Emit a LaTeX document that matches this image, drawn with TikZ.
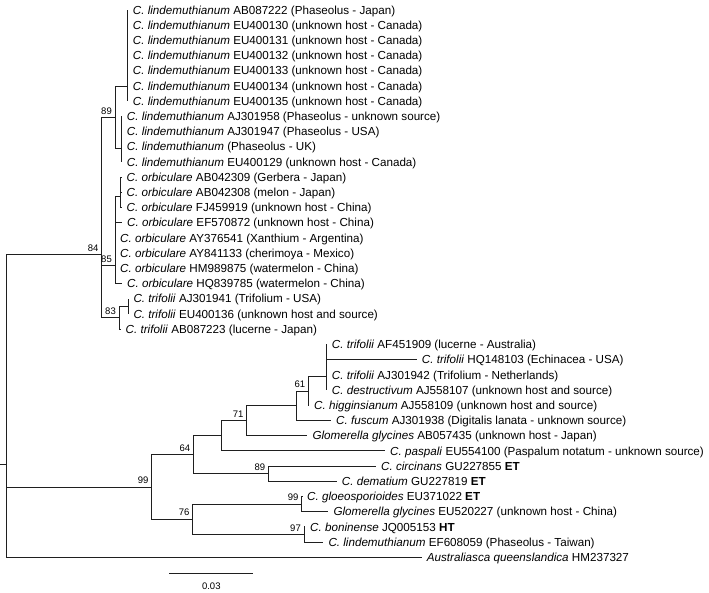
\documentclass[tikz,border=0pt]{standalone}
\usepackage{fontspec}
\setmainfont{Liberation Sans}
\newcommand\LfTip[4]{\coordinate (#1) at (#2,{10+15.2*#3}); \node[leaf] (#1t) at (#1) {#4};}
\begin{document}
\begin{tikzpicture}[x=1pt,y=-1pt,
  br/.style={line width=0.9pt, draw=black!88},
  leaf/.style={anchor=base west, inner sep=0pt, xshift=5pt, yshift=-4.2pt, font=\fontsize{11.65pt}{13pt}\selectfont},
  boot/.style={anchor=south east, inner sep=0pt, xshift=-3pt, yshift=3pt, font=\fontsize{9.5pt}{11pt}\selectfont}]
\useasboundingbox (0,0) rectangle (709,593);

% internal nodes
\coordinate (rootstub) at (0,464.2);
\coordinate (root) at (6.7,464.2);
\coordinate (n84) at (101.7,254.5);
\coordinate (n89) at (115,117.5);
\coordinate (g7) at (127.7,86.2);
\coordinate (g4) at (121.7,148.7);
\coordinate (n85) at (115,265.5);
\coordinate (sub85) at (120,196.2);
\coordinate (n83) at (119,317.8);
\coordinate (sub83) at (128.3,306.4);
\coordinate (n99) at (151.7,487);
\coordinate (n64) at (193.3,454.7);
\coordinate (nu) at (221.7,435.7);
\coordinate (n71) at (246.7,420.6);
\coordinate (nx) at (296,405.7);
\coordinate (n61) at (308.3,391);
\coordinate (nt) at (326.7,376.8);
\coordinate (n89b) at (268.3,473.6);
\coordinate (n76) at (192.7,519.2);
\coordinate (n99g) at (301.7,504);
\coordinate (n97) at (304,534.4);

% leaves
\LfTip{l0}{127.7}{0}{\textit{C. lindemuthianum} AB087222 (Phaseolus - Japan)}
\LfTip{l1}{127.7}{1}{\textit{C. lindemuthianum} EU400130 (unknown host - Canada)}
\LfTip{l2}{127.7}{2}{\textit{C. lindemuthianum} EU400131 (unknown host - Canada)}
\LfTip{l3}{127.7}{3}{\textit{C. lindemuthianum} EU400132 (unknown host - Canada)}
\LfTip{l4}{127.7}{4}{\textit{C. lindemuthianum} EU400133 (unknown host - Canada)}
\LfTip{l5}{127.7}{5}{\textit{C. lindemuthianum} EU400134 (unknown host - Canada)}
\LfTip{l6}{127.7}{6}{\textit{C. lindemuthianum} EU400135 (unknown host - Canada)}
\LfTip{l7}{121.7}{7}{\textit{C. lindemuthianum} AJ301958 (Phaseolus - unknown source)}
\LfTip{l8}{121.7}{8}{\textit{C. lindemuthianum} AJ301947 (Phaseolus - USA)}
\LfTip{l9}{121.7}{9}{\textit{C. lindemuthianum} (Phaseolus - UK)}
\LfTip{l10}{121.7}{10}{\textit{C. lindemuthianum} EU400129 (unknown host - Canada)}
\LfTip{l11}{121.5}{11}{\textit{C. orbiculare} AB042309 (Gerbera - Japan)}
\LfTip{l12}{121.5}{12}{\textit{C. orbiculare} AB042308 (melon - Japan)}
\LfTip{l13}{121.5}{13}{\textit{C. orbiculare} FJ459919 (unknown host - China)}
\LfTip{l14}{122}{14}{\textit{C. orbiculare} EF570872 (unknown host - China)}
\LfTip{l15}{115}{15}{\textit{C. orbiculare} AY376541 (Xanthium - Argentina)}
\LfTip{l16}{115}{16}{\textit{C. orbiculare} AY841133 (cherimoya - Mexico)}
\LfTip{l17}{115}{17}{\textit{C. orbiculare} HM989875 (watermelon - China)}
\LfTip{l18}{122}{18}{\textit{C. orbiculare} HQ839785 (watermelon - China)}
\LfTip{l19}{128.3}{19}{\textit{C. trifolii} AJ301941 (Trifolium - USA)}
\LfTip{l20}{128.3}{20}{\textit{C. trifolii} EU400136 (unknown host and source)}
\LfTip{l21}{120.5}{21}{\textit{C. trifolii} AB087223 (lucerne - Japan)}
\LfTip{l22}{326.7}{22}{\textit{C. trifolii} AF451909 (lucerne - Australia)}
\LfTip{l23}{416.7}{23}{\textit{C. trifolii} HQ148103 (Echinacea - USA)}
\LfTip{l24}{326.7}{24}{\textit{C. trifolii} AJ301942 (Trifolium - Netherlands)}
\LfTip{l25}{326.7}{25}{\textit{C. destructivum} AJ558107 (unknown host and source)}
\LfTip{l26}{309}{26}{\textit{C. higginsianum} AJ558109 (unknown host and source)}
\LfTip{l27}{331}{27}{\textit{C. fuscum} AJ301938 (Digitalis lanata - unknown source)}
\LfTip{l28}{307.3}{28}{\textit{Glomerella glycines} AB057435 (unknown host - Japan)}
\LfTip{l29}{385}{29}{\textit{C. paspali} EU554100 (Paspalum notatum - unknown source)}
\LfTip{l30}{376}{30}{\textit{C. circinans} GU227855 \textbf{ET}}
\LfTip{l31}{336.7}{31}{\textit{C. dematium} GU227819 \textbf{ET}}
\LfTip{l32}{302}{32}{\textit{C. gloeosporioides} EU371022 \textbf{ET}}
\LfTip{l33}{328.3}{33}{\textit{Glomerella glycines} EU520227 (unknown host - China)}
\LfTip{l34}{305}{34}{\textit{C. boninense} JQ005153 \textbf{HT}}
\LfTip{l35}{323.3}{35}{\textit{C. lindemuthianum} EF608059 (Phaseolus - Taiwan)}
\LfTip{l36}{421.7}{36}{\textit{Australiasca queenslandica} HM237327}

% branches
\draw[br] (rootstub) -- (root);
\draw[br] (root) |- (n84);
\draw[br] (root) |- (n99);
\draw[br] (root) |- (l36);
\draw[br] (n84) |- (n89);
\draw[br] (n84) |- (n85);
\draw[br] (n84) |- (n83);
\draw[br] (n89) |- (g7);
\draw[br] (n89) |- (g4);
\foreach \i in {0,...,6} {\draw[br] (g7) |- (l\i);}
\foreach \i in {7,...,10} {\draw[br] (g4) |- (l\i);}
\draw[br] (n85) |- (sub85);
\foreach \i in {11,12,13} {\draw[br] (sub85) |- (l\i);}
\foreach \i in {14,...,18} {\draw[br] (n85) |- (l\i);}
\draw[br] (n83) |- (sub83);
\draw[br] (sub83) |- (l19);
\draw[br] (sub83) |- (l20);
\draw[br] (n83) |- (l21);
\draw[br] (n99) |- (n64);
\draw[br] (n99) |- (n76);
\draw[br] (n64) |- (nu);
\draw[br] (n64) |- (n89b);
\draw[br] (nu) |- (n71);
\draw[br] (nu) |- (l29);
\draw[br] (n71) |- (nx);
\draw[br] (n71) |- (l28);
\draw[br] (nx) |- (n61);
\draw[br] (nx) |- (l27);
\draw[br] (n61) |- (nt);
\draw[br] (n61) |- (l26);
\foreach \i in {22,...,25} {\draw[br] (nt) |- (l\i);}
\draw[br] (n89b) |- (l30);
\draw[br] (n89b) |- (l31);
\draw[br] (n76) |- (n99g);
\draw[br] (n76) |- (n97);
\draw[br] (n99g) |- (l32);
\draw[br] (n99g) |- (l33);
\draw[br] (n97) |- (l34);
\draw[br] (n97) |- (l35);

% bootstrap values
\node[boot] (b89) at (n89) {89};
\node[boot] (b84) at (n84) {84};
\node[boot] (b85) at (n85) {85};
\node[boot] (b83) at (n83) {83};
\node[boot] (b99) at (n99) {99};
\node[boot] (b64) at (n64) {64};
\node[boot] (b71) at (n71) {71};
\node[boot] (b61) at (n61) {61};
\node[boot] (b89b) at (n89b) {89};
\node[boot] (b76) at (n76) {76};
\node[boot] (b99g) at (n99g) {99};
\node[boot] (b97) at (n97) {97};

% scale bar
\coordinate (sb1) at (169.3,573.3);
\coordinate (sb2) at (253.3,573.3);
\draw[br] (sb1) -- (sb2);
\node[font=\fontsize{9.5pt}{11pt}\selectfont, inner sep=0pt] (sbl) at (211.3,586.7) {0.03};
\end{tikzpicture}
\end{document}
